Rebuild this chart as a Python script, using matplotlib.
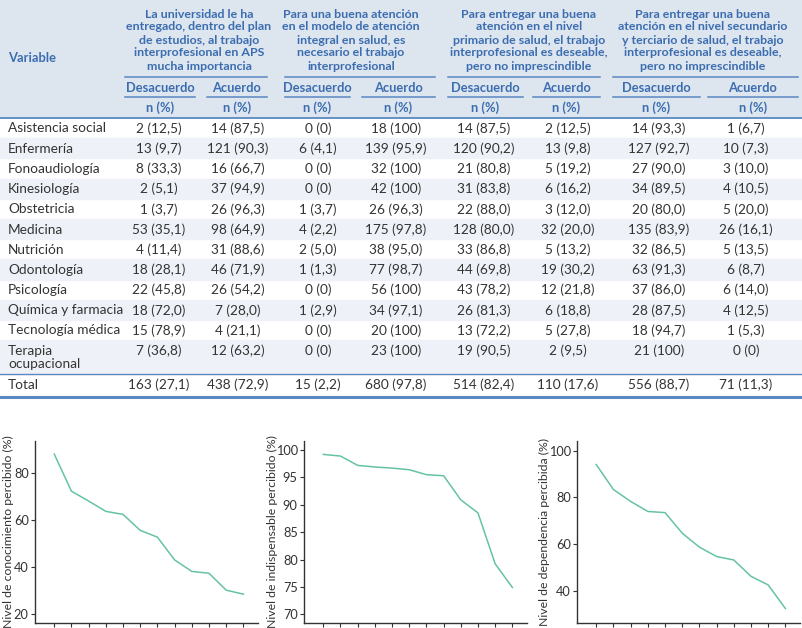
import matplotlib
matplotlib.use("Agg")
import matplotlib.pyplot as plt
import numpy as np

plt.rcParams['font.family'] = ['Lato', 'DejaVu Sans']

# ---- table data ----
variables = ["Asistencia social", "Enfermería", "Fonoaudiología", "Kinesiología",
             "Obstetricia", "Medicina", "Nutrición", "Odontología", "Psicología",
             "Química y farmacia", "Tecnología médica", "Terapia\nocupacional"]

group_titles = [
    ["La universidad le ha", "entregado, dentro del plan", "de estudios, al trabajo",
     "interprofesional en APS", "mucha importancia"],
    ["Para una buena atención", "en el modelo de atención", "integral en salud, es",
     "necesario el trabajo", "interprofesional"],
    ["Para entregar una buena", "atención en el nivel", "primario de salud, el trabajo",
     "interprofesional es deseable,", "pero no imprescindible"],
    ["Para entregar una buena", "atención en el nivel secundario",
     "y terciario de salud, el trabajo", "interprofesional es deseable,",
     "pero no imprescindible"],
]

univ_des = ["2 (12,5)", "13 (9,7)", "8 (33,3)", "2 (5,1)", "1 (3,7)", "53 (35,1)",
            "4 (11,4)", "18 (28,1)", "22 (45,8)", "18 (72,0)", "15 (78,9)", "7 (36,8)"]
univ_acu = ["14 (87,5)", "121 (90,3)", "16 (66,7)", "37 (94,9)", "26 (96,3)", "98 (64,9)",
            "31 (88,6)", "46 (71,9)", "26 (54,2)", "7 (28,0)", "4 (21,1)", "12 (63,2)"]
integ_des = ["0 (0)", "6 (4,1)", "0 (0)", "0 (0)", "1 (3,7)", "4 (2,2)",
             "2 (5,0)", "1 (1,3)", "0 (0)", "1 (2,9)", "0 (0)", "0 (0)"]
integ_acu = ["18 (100)", "139 (95,9)", "32 (100)", "42 (100)", "26 (96,3)", "175 (97,8)",
             "38 (95,0)", "77 (98,7)", "56 (100)", "34 (97,1)", "20 (100)", "23 (100)"]
prim_des = ["14 (87,5)", "120 (90,2)", "21 (80,8)", "31 (83,8)", "22 (88,0)", "128 (80,0)",
            "33 (86,8)", "44 (69,8)", "43 (78,2)", "26 (81,3)", "13 (72,2)", "19 (90,5)"]
prim_acu = ["2 (12,5)", "13 (9,8)", "5 (19,2)", "6 (16,2)", "3 (12,0)", "32 (20,0)",
            "5 (13,2)", "19 (30,2)", "12 (21,8)", "6 (18,8)", "5 (27,8)", "2 (9,5)"]
sec_des = ["14 (93,3)", "127 (92,7)", "27 (90,0)", "34 (89,5)", "20 (80,0)", "135 (83,9)",
           "32 (86,5)", "63 (91,3)", "37 (86,0)", "28 (87,5)", "18 (94,7)", "21 (100)"]
sec_acu = ["1 (6,7)", "10 (7,3)", "3 (10,0)", "4 (10,5)", "5 (20,0)", "26 (16,1)",
           "5 (13,5)", "6 (8,7)", "6 (14,0)", "4 (12,5)", "1 (5,3)", "0 (0)"]
totals = ["163 (27,1)", "438 (72,9)", "15 (2,2)", "680 (97,8)",
          "514 (82,4)", "110 (17,6)", "556 (88,7)", "71 (11,3)"]

# ---- line chart data ----
conocimiento = [88.1, 72.3, 68.1, 63.7, 62.4, 55.6, 52.7, 43.0, 38.1, 37.3, 30.1, 28.4]
indispensable = [99.2, 98.9, 97.2, 96.9, 96.7, 96.4, 95.5, 95.3, 90.9, 88.5, 79.2, 74.9]
dependencia = [94.1, 83.4, 78.3, 74.0, 73.5, 64.7, 58.7, 54.7, 53.2, 46.2, 42.5, 32.4]

W, H = 803, 628
fig = plt.figure(figsize=(W / 100, H / 100), dpi=100)

# ---- table, drawn in pixel coordinates ----
tab = fig.add_axes([0, 0, 1, 1])
tab.set_xlim(0, W)
tab.set_ylim(H, 0)
tab.axis("off")

blue_txt = "#3b6db0"
blue_line = "#5a88c2"
body_txt = "#333333"
fs_body = 9.8
fs_head = 9.3

tab.axhspan(0, 117, color="#dde5ef", zorder=0)

group_spans = [(125, 267), (285, 435), (448, 600), (613, 798)]
sub_spans = [[(125, 195), (207, 267)], [(285, 350), (362, 435)],
             [(448, 523), (533, 600)], [(613, 700), (708, 798)]]
group_centers = [199, 351, 529, 703]
col_centers = [159, 238, 318, 396, 484, 568, 659, 746]

tab.text(8, 58, "Variable", color=blue_txt, fontsize=fs_head, fontweight="bold", va="center")
for g, lines in enumerate(group_titles):
    for k, ln in enumerate(lines):
        tab.text(group_centers[g], 14 + 13 * k, ln, color=blue_txt, fontsize=8.9,
                 fontweight="bold", ha="center", va="center")
    x0, x1 = group_spans[g]
    tab.plot([x0, x1], [77, 77], color=blue_line, lw=1.1)
    for s, (a, b) in enumerate(sub_spans[g]):
        tab.plot([a, b], [97, 97], color=blue_line, lw=1.1)
        cx = (a + b) / 2
        tab.text(cx, 87.5, ["Desacuerdo", "Acuerdo"][s], color=blue_txt, fontsize=fs_head,
                 fontweight="bold", ha="center", va="center")
        tab.text(cx, 108, "n (%)", color=blue_txt, fontsize=fs_head,
                 fontweight="bold", ha="center", va="center")

tab.plot([0, W], [117.5, 117.5], color=blue_line, lw=1.3)

columns = [univ_des, univ_acu, integ_des, integ_acu, prim_des, prim_acu, sec_des, sec_acu]
row_h = 20.2
for i, name in enumerate(variables):
    yc = 128.5 + i * row_h
    top = 118 + i * row_h
    bottom = top + row_h if i < len(variables) - 1 else 374
    if i % 2 == 1:
        tab.axhspan(top, bottom, color="#eef2f8", zorder=0)
    if "\n" in name:
        tab.text(8, yc - 6, name, color=body_txt, fontsize=fs_body, va="top",
                 linespacing=1.15)
    else:
        tab.text(8, yc, name, color=body_txt, fontsize=fs_body, va="center")
    for c, col in enumerate(columns):
        tab.text(col_centers[c], yc, col[i], color=body_txt, fontsize=fs_body,
                 ha="center", va="center")

tab.plot([0, W], [374, 374], color=blue_line, lw=1.0)
tab.text(8, 385, "Total", color=body_txt, fontsize=fs_body, va="center")
for c, val in enumerate(totals):
    tab.text(col_centers[c], 385, val, color=body_txt, fontsize=fs_body, ha="center", va="center")
tab.plot([0, W], [397, 397], color=blue_line, lw=2.2)

# ---- line charts ----
line_color = "#66c2a5"
panels = [
    (35, conocimiento, "Nivel de conocimiento percibido (%)", (16.1, 93.7), [20, 40, 60, 80], -0.095),
    (304, indispensable, "Nivel de indispensable percibido (%)", (68.4, 101.65), [70, 75, 80, 85, 90, 95, 100], -0.118),
    (577, dependencia, "Nivel de dependencia percibida (%)", (26.2, 104.2), [40, 60, 80, 100], -0.12),
]
for left, vals, label, ylim, yticks, lab_x in panels:
    ax = fig.add_axes([left / W, (H - 623) / H, 223 / W, 182 / H])
    x = np.arange(len(vals))
    ax.plot(x, vals, color=line_color, lw=1.1)
    ax.set_xlim(-1.12, 11.85)
    ax.set_ylim(*ylim)
    ax.set_yticks(yticks)
    ax.set_xticks(x)
    ax.set_xticklabels([])
    for sp in ["top", "right"]:
        ax.spines[sp].set_visible(False)
    for sp in ["left", "bottom"]:
        ax.spines[sp].set_color("#333333")
        ax.spines[sp].set_linewidth(1.0)
    ax.tick_params(axis="both", length=3, width=0.8, color="#333333",
                   labelsize=9.2, labelcolor="#333333", pad=1.5)
    ax.set_ylabel(label, fontsize=8.8, color="#333333")
    ax.yaxis.set_label_coords(lab_x, 0.5)

fig.savefig("out.png", dpi=100)
